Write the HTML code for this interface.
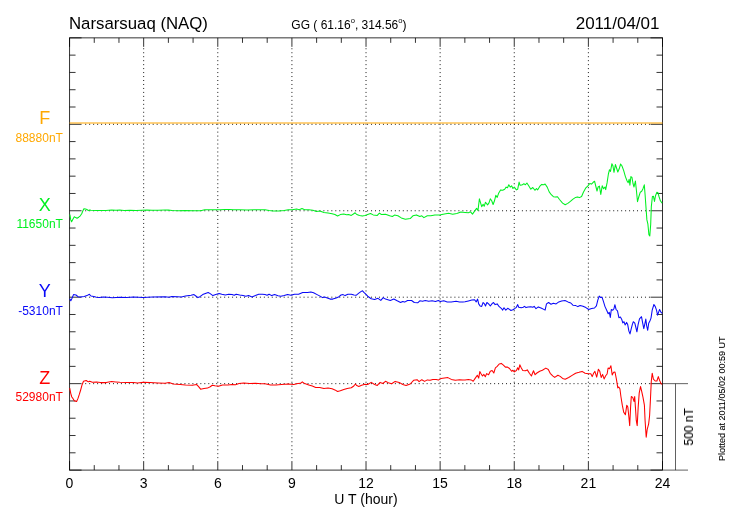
<!DOCTYPE html>
<html lang="en"><head><meta charset="utf-8"><title>Narsarsuaq (NAQ) 2011/04/01</title>
<style>html,body{margin:0;padding:0;background:#fff;}body{width:730px;height:520px;overflow:hidden;}svg{display:block;}.t{opacity:0.999;will-change:opacity;}text{font-family:"Liberation Sans",Arial,Helvetica,sans-serif;}</style>
</head><body>
<svg width="730" height="520" viewBox="0 0 730 520">
<rect x="0" y="0" width="730" height="520" fill="#fff"/>
<g stroke="#000" stroke-opacity="0.9" stroke-width="1" stroke-dasharray="1 2.97" fill="none">
<line x1="143.67" y1="48.25" x2="143.67" y2="460.6"/>
<line x1="217.79" y1="48.25" x2="217.79" y2="460.6"/>
<line x1="291.91" y1="48.25" x2="291.91" y2="460.6"/>
<line x1="366.03" y1="48.25" x2="366.03" y2="460.6"/>
<line x1="440.14" y1="48.25" x2="440.14" y2="460.6"/>
<line x1="514.26" y1="48.25" x2="514.26" y2="460.6"/>
<line x1="588.38" y1="48.25" x2="588.38" y2="460.6"/>
<line x1="85.2" y1="124.3" x2="650.5" y2="124.3"/>
<line x1="85.2" y1="210.75" x2="650.5" y2="210.75"/>
<line x1="85.2" y1="297.2" x2="650.5" y2="297.2"/>
<line x1="85.2" y1="383.65" x2="650.5" y2="383.65"/>
</g>
<g stroke="#000" stroke-opacity="0.8" stroke-width="1" fill="none">
<rect x="69.55" y="37.85" width="592.95" height="432.25"/>
<line x1="69.55" y1="37.85" x2="69.55" y2="46.85"/>
<line x1="69.55" y1="470.1" x2="69.55" y2="461.1"/>
<line x1="94.26" y1="37.85" x2="94.26" y2="42.85"/>
<line x1="94.26" y1="470.1" x2="94.26" y2="465.1"/>
<line x1="118.96" y1="37.85" x2="118.96" y2="42.85"/>
<line x1="118.96" y1="470.1" x2="118.96" y2="465.1"/>
<line x1="143.67" y1="37.85" x2="143.67" y2="46.85"/>
<line x1="143.67" y1="470.1" x2="143.67" y2="461.1"/>
<line x1="168.38" y1="37.85" x2="168.38" y2="42.85"/>
<line x1="168.38" y1="470.1" x2="168.38" y2="465.1"/>
<line x1="193.08" y1="37.85" x2="193.08" y2="42.85"/>
<line x1="193.08" y1="470.1" x2="193.08" y2="465.1"/>
<line x1="217.79" y1="37.85" x2="217.79" y2="46.85"/>
<line x1="217.79" y1="470.1" x2="217.79" y2="461.1"/>
<line x1="242.49" y1="37.85" x2="242.49" y2="42.85"/>
<line x1="242.49" y1="470.1" x2="242.49" y2="465.1"/>
<line x1="267.2" y1="37.85" x2="267.2" y2="42.85"/>
<line x1="267.2" y1="470.1" x2="267.2" y2="465.1"/>
<line x1="291.91" y1="37.85" x2="291.91" y2="46.85"/>
<line x1="291.91" y1="470.1" x2="291.91" y2="461.1"/>
<line x1="316.61" y1="37.85" x2="316.61" y2="42.85"/>
<line x1="316.61" y1="470.1" x2="316.61" y2="465.1"/>
<line x1="341.32" y1="37.85" x2="341.32" y2="42.85"/>
<line x1="341.32" y1="470.1" x2="341.32" y2="465.1"/>
<line x1="366.03" y1="37.85" x2="366.03" y2="46.85"/>
<line x1="366.03" y1="470.1" x2="366.03" y2="461.1"/>
<line x1="390.73" y1="37.85" x2="390.73" y2="42.85"/>
<line x1="390.73" y1="470.1" x2="390.73" y2="465.1"/>
<line x1="415.44" y1="37.85" x2="415.44" y2="42.85"/>
<line x1="415.44" y1="470.1" x2="415.44" y2="465.1"/>
<line x1="440.14" y1="37.85" x2="440.14" y2="46.85"/>
<line x1="440.14" y1="470.1" x2="440.14" y2="461.1"/>
<line x1="464.85" y1="37.85" x2="464.85" y2="42.85"/>
<line x1="464.85" y1="470.1" x2="464.85" y2="465.1"/>
<line x1="489.56" y1="37.85" x2="489.56" y2="42.85"/>
<line x1="489.56" y1="470.1" x2="489.56" y2="465.1"/>
<line x1="514.26" y1="37.85" x2="514.26" y2="46.85"/>
<line x1="514.26" y1="470.1" x2="514.26" y2="461.1"/>
<line x1="538.97" y1="37.85" x2="538.97" y2="42.85"/>
<line x1="538.97" y1="470.1" x2="538.97" y2="465.1"/>
<line x1="563.67" y1="37.85" x2="563.67" y2="42.85"/>
<line x1="563.67" y1="470.1" x2="563.67" y2="465.1"/>
<line x1="588.38" y1="37.85" x2="588.38" y2="46.85"/>
<line x1="588.38" y1="470.1" x2="588.38" y2="461.1"/>
<line x1="613.09" y1="37.85" x2="613.09" y2="42.85"/>
<line x1="613.09" y1="470.1" x2="613.09" y2="465.1"/>
<line x1="637.79" y1="37.85" x2="637.79" y2="42.85"/>
<line x1="637.79" y1="470.1" x2="637.79" y2="465.1"/>
<line x1="662.5" y1="37.85" x2="662.5" y2="46.85"/>
<line x1="662.5" y1="470.1" x2="662.5" y2="461.1"/>
<line x1="69.55" y1="37.85" x2="81.55" y2="37.85"/>
<line x1="662.5" y1="37.85" x2="650.5" y2="37.85"/>
<line x1="69.55" y1="55.14" x2="75.55" y2="55.14"/>
<line x1="662.5" y1="55.14" x2="656.5" y2="55.14"/>
<line x1="69.55" y1="72.43" x2="75.55" y2="72.43"/>
<line x1="662.5" y1="72.43" x2="656.5" y2="72.43"/>
<line x1="69.55" y1="89.72" x2="75.55" y2="89.72"/>
<line x1="662.5" y1="89.72" x2="656.5" y2="89.72"/>
<line x1="69.55" y1="107.01" x2="75.55" y2="107.01"/>
<line x1="662.5" y1="107.01" x2="656.5" y2="107.01"/>
<line x1="69.55" y1="124.3" x2="81.55" y2="124.3"/>
<line x1="662.5" y1="124.3" x2="650.5" y2="124.3"/>
<line x1="69.55" y1="141.59" x2="75.55" y2="141.59"/>
<line x1="662.5" y1="141.59" x2="656.5" y2="141.59"/>
<line x1="69.55" y1="158.88" x2="75.55" y2="158.88"/>
<line x1="662.5" y1="158.88" x2="656.5" y2="158.88"/>
<line x1="69.55" y1="176.17" x2="75.55" y2="176.17"/>
<line x1="662.5" y1="176.17" x2="656.5" y2="176.17"/>
<line x1="69.55" y1="193.46" x2="75.55" y2="193.46"/>
<line x1="662.5" y1="193.46" x2="656.5" y2="193.46"/>
<line x1="69.55" y1="210.75" x2="81.55" y2="210.75"/>
<line x1="662.5" y1="210.75" x2="650.5" y2="210.75"/>
<line x1="69.55" y1="228.04" x2="75.55" y2="228.04"/>
<line x1="662.5" y1="228.04" x2="656.5" y2="228.04"/>
<line x1="69.55" y1="245.33" x2="75.55" y2="245.33"/>
<line x1="662.5" y1="245.33" x2="656.5" y2="245.33"/>
<line x1="69.55" y1="262.62" x2="75.55" y2="262.62"/>
<line x1="662.5" y1="262.62" x2="656.5" y2="262.62"/>
<line x1="69.55" y1="279.91" x2="75.55" y2="279.91"/>
<line x1="662.5" y1="279.91" x2="656.5" y2="279.91"/>
<line x1="69.55" y1="297.2" x2="81.55" y2="297.2"/>
<line x1="662.5" y1="297.2" x2="650.5" y2="297.2"/>
<line x1="69.55" y1="314.49" x2="75.55" y2="314.49"/>
<line x1="662.5" y1="314.49" x2="656.5" y2="314.49"/>
<line x1="69.55" y1="331.78" x2="75.55" y2="331.78"/>
<line x1="662.5" y1="331.78" x2="656.5" y2="331.78"/>
<line x1="69.55" y1="349.07" x2="75.55" y2="349.07"/>
<line x1="662.5" y1="349.07" x2="656.5" y2="349.07"/>
<line x1="69.55" y1="366.36" x2="75.55" y2="366.36"/>
<line x1="662.5" y1="366.36" x2="656.5" y2="366.36"/>
<line x1="69.55" y1="383.65" x2="81.55" y2="383.65"/>
<line x1="662.5" y1="383.65" x2="650.5" y2="383.65"/>
<line x1="69.55" y1="400.94" x2="75.55" y2="400.94"/>
<line x1="662.5" y1="400.94" x2="656.5" y2="400.94"/>
<line x1="69.55" y1="418.23" x2="75.55" y2="418.23"/>
<line x1="662.5" y1="418.23" x2="656.5" y2="418.23"/>
<line x1="69.55" y1="435.52" x2="75.55" y2="435.52"/>
<line x1="662.5" y1="435.52" x2="656.5" y2="435.52"/>
<line x1="69.55" y1="452.81" x2="75.55" y2="452.81"/>
<line x1="662.5" y1="452.81" x2="656.5" y2="452.81"/>
<line x1="69.55" y1="470.1" x2="81.55" y2="470.1"/>
<line x1="662.5" y1="470.1" x2="650.5" y2="470.1"/>
</g>
<g stroke="#000" stroke-opacity="0.62" stroke-width="1" fill="none">
<line x1="663" y1="383.65" x2="688" y2="383.65"/>
<line x1="663" y1="470.1" x2="688" y2="470.1"/>
<line x1="675.5" y1="383.65" x2="675.5" y2="470.1"/>
</g>
<line x1="69.55" y1="123" x2="662.5" y2="123" stroke="#FFA500" stroke-width="1.2"/>
<polyline fill="none" stroke="#00F020" stroke-width="1.05" stroke-linejoin="round" points="69.9,214.5 70.75,219.9 71.6,221.7 72.9,219.2 74.3,216.8 75.7,217.6 77.05,218.2 78.7,217.2 80.3,215.8 81.7,213.8 82.8,211 83.9,208.7 85.5,209 86.9,209.4 88.3,210.6 89.7,210.1 91,210.3 96.5,210.6 101,210.4 106,210.6 111.6,210.1 116,210.3 119.8,210.1 124,210.4 130,210.3 136,210.4 141.7,210.3 147,210.1 152,210.3 158,210.2 165,210.1 168.4,210.1 172,210.4 178.7,210.75 185,210.6 192.4,210.75 200.6,210.7 204.7,209.7 212,209.8 219.8,209.7 225,209.4 229.4,209.4 233.5,209.8 240,209.7 247,209.9 254,209.7 260,209.8 265,209.7 269.1,210.5 273.2,211 278.7,211 284.2,210.5 288.3,209.7 292.4,209.8 296.5,209.1 299.2,209.7 302,208.6 304.7,209.7 308.8,209.7 312.9,210.3 316.4,211.4 319.8,211 323.9,212.4 328,213.1 332.1,213.8 334.9,214.5 337.6,216 340.3,214.6 343.8,214 346.5,214.7 348.6,214.5 351.3,215.4 353.4,214 355.1,212.8 356.8,214.5 359.5,215.4 362.3,216.1 365,215.4 367.7,214.5 370.5,213.5 373.2,214.9 377.3,215.4 379.4,213.1 381.4,214.5 385.5,214.2 389.7,215.8 392.4,216.5 394.5,215.1 397.9,215.8 401.3,217.9 405.4,219.2 410.2,218.6 412.9,215.8 416.4,214.9 419.8,216.5 421.8,215.8 423.9,217.6 427.3,215.8 430.8,215.8 434.9,214.9 439.7,215.1 443.1,214.2 448.6,213.2 452.7,214.2 456.8,213.5 460.9,212.1 465,212.4 468.4,212.7 470.5,211.8 472.5,214.1 474.6,211.1 476.6,208.4 478,210.4 479.4,198.8 480.8,203.6 481.7,206.7 483.1,204.2 484.2,206.3 485.5,202.2 487.6,204.9 489,202.9 490.3,198.8 491.7,200.8 493.1,204.5 494.5,200.8 495.8,195.3 497.2,197.4 498.6,193.3 500.6,189.9 502.7,190.3 504.7,189.2 506.1,187.1 507.5,187.8 508.8,184.8 510.2,187.1 511.6,185.8 512.9,188.5 514.3,187.1 516.4,189.9 517.7,189.2 519.1,182.1 520.1,185.3 521.8,185.1 523.9,183.7 525.3,184.8 526.9,183 528.7,185.8 530.8,189.2 532.8,187.5 534.9,190.3 536.5,188.5 537.6,189.9 539.7,186.4 541.7,184.4 543.8,184.8 545.1,184 547.2,187.1 549.2,191.9 551.3,194.7 553.4,196.7 555.4,197.1 557.5,196.7 559.5,199.5 562.6,203.1 565.2,204.8 567.8,203.4 570.4,201.4 573,199.1 575.6,197.4 577.3,196.9 579.4,197.6 581.6,196.5 583.4,192.2 585.6,188.2 587.7,186.1 589.8,183.5 591.5,184.1 593.2,182.3 594.6,181.3 596,187 597,191 598.1,187 599.4,186.1 600.8,194.4 602.2,185.8 603.6,188.7 605,187 605.7,189.6 607.1,182.7 608.4,174 609.5,169.7 610.5,171.4 611.9,163.7 612.9,165.7 614,172.3 615.4,164.5 616.7,168.5 617.8,172 619.2,168.8 620.6,164 621.9,165.7 623.7,170.6 625.4,176.6 627.1,181 628.2,182.7 629.2,179.2 629.9,185.3 630.9,176.6 632,177.5 633,183.5 634,187 635.4,181 636.5,191.3 637.5,201.7 638.9,196.5 640.3,192.2 641.7,191.3 643,188.7 644.3,184.8 645.1,194.8 646.2,210.4 646.9,219.9 647.9,224.2 648.9,234.6 649.8,236 650.7,224.2 651.3,206.9 652.4,196.5 653.4,196.2 654.5,201.4 655.5,195.7 656.9,192.2 657.9,192.7 659,196.5 660.4,200.8 662.1,203.1"/>
<polyline fill="none" stroke="#0808F8" stroke-width="1.05" stroke-linejoin="round" points="69.7,298.7 70.8,300.8 71.8,298.7 73.5,294.6 76,295 78,296.7 80.1,297.1 84.2,296.4 86.9,295.6 89.4,294.3 91,296 93.8,296.4 96.5,297.3 99.2,297.6 103.4,296.9 107.5,297.3 112.3,297.8 119.8,297.3 126.6,297.5 133.5,297.1 143.1,297.5 152.7,297.1 165,296.8 169.1,297.2 171.8,296.5 177.3,296.7 181.4,296.9 185.5,296.1 191,295.3 194,294.6 195.8,296 197.9,297.6 199.9,296.7 202.7,294.6 206.1,293.2 208.2,292.5 210.2,293.6 212.9,295.6 215.7,294.6 219.1,293.5 221.8,294.3 225.3,295 228.7,294.2 232.1,294.6 234.2,295.3 236.2,294.3 239.7,295 243.1,295.6 245.8,296.2 248.6,295.6 252,296.9 255.4,295.6 258.8,294.2 262.3,294.3 265,294.6 267.1,295.3 269.1,294.2 271.8,295.6 274.6,294.6 278,295.7 280.8,296.2 284.2,295.6 287.6,294.6 291,295.3 294.5,294.2 298.6,294.2 302.7,292.5 307.5,292.5 310.9,292 313.6,292.8 317.1,294.6 320.5,296.4 322.5,297.6 324.6,297.1 327.3,298 330.1,299.1 332.8,299.1 336.2,298 339,296.7 341,295 343.1,294.6 345.1,295.6 347.9,294.3 351.3,294.2 354,295 356.1,295.3 358.8,293.2 360.9,291.6 362.5,290.8 363.9,292.3 365,293.4 367.7,296.2 371.2,298.7 374.6,299.4 378,298.3 380.8,300.4 383.2,297.6 385.5,299.1 390.3,300.4 393.8,299 397.2,300.8 400.6,302.5 402.7,301.5 404.7,302.1 407.5,300.5 411.6,300.5 414.3,302.5 417.7,302.8 419.8,300.8 422.5,301.2 425.3,300.5 428.7,301.2 432.1,300.8 435.5,301.5 438.3,300.5 440.3,301.5 443.8,300.8 447.2,301.9 451.3,301.9 456.1,301.3 459.5,301.9 462.9,302.1 465,301.7 468.4,300.9 471.8,300.1 474.6,299.8 476.2,301.9 477.6,299.1 478.7,303.9 480.1,306 481.7,306.4 483.1,302.5 484.5,303.9 485.5,306 486.9,302.5 488.6,303.9 490.3,306 492.1,303.6 493.5,302.5 495.1,304.6 497.2,303.9 499.2,306.7 501.3,308.3 502.7,310.1 504,307.8 505.8,310.1 507.7,308.3 509.5,309.4 510.9,310.5 512.9,309.8 514.6,308.7 516.4,307.3 517.7,304.6 518.7,307.3 521.2,307.8 523.2,307.3 524.6,306.4 526,307.6 528,306.9 530.8,306.7 532.8,307.3 534.2,306.4 536,308.7 538.3,306.9 541,308 543.8,309.4 545.1,310.1 546.5,303.9 548.6,302.5 551,304.2 553.4,303.2 556.1,303.9 558.8,301.9 561.6,300.9 565,300.5 567.9,301.9 570.8,303 572.9,305.2 575.8,305.6 577.9,306.6 580.1,305.6 583,306.3 585.9,307.6 588.7,309.5 591.6,308.5 594.5,308 596.4,305.9 597.8,300.1 599.2,296.1 600.7,297.5 602.1,297.3 603.5,301.6 605,306.6 606.7,310.2 608.2,313.8 609.3,312.4 610.3,317.4 611.3,309.5 612.8,310.2 613.9,308.8 614.9,304.7 616.1,309.5 617.5,310.9 618.9,317.7 620.4,317.1 621.8,319.6 622.8,322.9 624,321.7 625.1,324.9 626.6,322.4 627.7,324.6 628.9,331.1 630,333.9 631.2,328.9 632.3,324.6 633.3,321.7 634.8,323.2 635.9,327.5 636.9,331.8 638.1,324.6 639.5,318.8 641.5,316.7 642.7,323.2 643.8,328.6 645,323.2 645.8,319.1 646.7,326 647.7,330.3 648.7,323.2 649.9,321 651,318.1 652.2,310.2 653.9,304.5 655.3,306.6 656.5,310.2 657.6,315.2 658.8,311.6 659.6,309.5 661.1,312.4 662.2,313.4"/>
<polyline fill="none" stroke="#FF0000" stroke-width="1.05" stroke-linejoin="round" points="69.7,388.1 70.8,393.6 71.8,397 72.9,398.4 74.3,400.8 76.6,401.5 78,398.4 79.4,394.2 80.8,389.5 82.1,384.7 83.5,381.2 86.2,380.5 88.3,381.9 89.7,381.2 92.4,382.2 96.5,381.9 100.6,382.6 106.1,382.6 111.6,381.6 115.7,381.9 119.8,382.3 126.6,382.5 133.5,382.6 137.6,383 143.1,382.3 149.9,382.6 158.2,382.9 165,383.2 169.1,382.6 173.2,384 180.1,384.4 185.5,385.1 192.4,385.3 196.5,384.4 198.6,386.7 200.6,389.2 204,388.5 207.5,388.1 210.2,386.7 212.3,385.3 215,385.8 218.4,386.3 222.5,384.9 228,384.9 232.1,384.4 235.5,384.7 239,383.6 243.8,383 249.9,383.6 255.4,383.3 260.9,383.8 265,383.8 270.5,384.9 276,385.1 281.4,384.4 288.3,384.1 293.8,384.4 297.9,383.6 300.6,383.3 302.3,381.9 304.7,383.6 308.8,384.9 312.3,386 315.7,387.4 319.8,387.4 323.9,388.5 328,388.1 332.1,388.8 334.9,389.9 337.6,391.5 340.3,390.8 343.8,389.5 347.2,388.4 351.3,387.8 353.8,386 355.4,384 356.8,385.6 358.8,386.4 361.6,385.3 365,384.3 367.7,384.5 371.2,382.4 374.6,384.5 377.3,385.4 380.1,382.4 382.8,383.5 385.5,381.3 389,383.1 391.7,383.8 395.1,381.4 399.2,382.4 402.7,384.5 406.1,385.5 410.2,384 413.6,380.3 417.1,379.7 419.1,381.7 421.8,379.7 424.6,381.4 427.3,379.9 430.1,380.3 432.8,379.4 436.2,379.4 438.3,380.1 441,378.6 444.5,378 447.9,377.6 451.3,379.4 455.4,380.3 459.5,379.7 462.9,380.1 465,379.9 468.4,379.5 471.2,379.9 473.2,381.2 475.3,378.1 477.3,375.3 478.7,378.1 479.8,371.6 481.2,374 482.5,376 483.9,374.4 485.3,376.7 486.6,373.6 488.6,374.7 490.3,371.2 492.1,370.5 493.8,373 495.4,367.8 497.2,366.4 499.2,364 501.3,363.4 503.4,365.1 505.4,367.1 507.5,367.1 509.5,368.5 511.6,371.2 512.9,370.3 514.3,371.9 516.4,370.5 517.7,367.8 518.7,369.9 519.8,364.8 521.2,367.8 522.8,370.5 525.3,370.8 527.3,369.9 529.4,373.3 531.4,376 533.5,370.8 535.1,374.7 536.9,373 539.7,371.2 542.4,370.3 545.8,368.1 548.3,369.5 550.2,373.3 552.7,375.8 554.7,377.4 557.9,375.3 560.2,376.4 562.6,378.4 565.2,379.2 568.7,377.5 572.1,375.4 575.6,373.2 579,372.3 582.1,371.4 585.1,373.2 588.5,373.7 590.8,373.7 592.2,376.6 593.6,373.2 594.9,371.4 596.7,377.1 598.4,369.2 599.8,371.4 601.2,377.5 602.6,374.4 604.1,378.9 605.7,375.8 607.1,374 608.1,368 609.5,368.8 610.9,365.7 612.2,374.9 613.6,372.3 615,372 616.4,379.2 617.8,387.9 618.8,387 619.9,388.7 620.9,396.5 622.3,405.2 623.7,412.1 625.4,414.7 626.8,405.2 627.8,406.9 628.9,417.3 629.7,425.6 630.6,406.9 631.3,396.5 632.7,397.4 634,401.4 634.7,396.5 635.4,406.9 636.3,420.7 637.2,425.6 638.2,406.9 639.2,393.1 640.5,386.5 641.7,391.3 643,397.4 644.4,405.2 645.1,420.7 646.2,437.2 647.2,429.4 648.6,424.2 649.6,415.6 650.5,398.3 651.3,381 652.2,373.2 653.4,379.2 655.2,381 656.9,381 658.3,376.6 659.7,380.6 661,383.5 662.1,384.4"/>
<text class="t" x="69" y="29" font-size="16.8" fill="#000">Narsarsuaq (NAQ)</text>
<text class="t" x="291.3" y="29" font-size="12" fill="#000">GG ( 61.16<tspan font-size="7.6" dy="-5.7">o</tspan><tspan dy="5.7">, 314.56</tspan><tspan font-size="7.6" dy="-5.7">o</tspan><tspan dy="5.7">)</tspan></text>
<text class="t" x="659.5" y="29" font-size="17" fill="#000" text-anchor="end">2011/04/01</text>
<text class="t" x="69.5" y="488" font-size="14" fill="#000" text-anchor="middle">0</text>
<text class="t" x="143.7" y="488" font-size="14" fill="#000" text-anchor="middle">3</text>
<text class="t" x="217.8" y="488" font-size="14" fill="#000" text-anchor="middle">6</text>
<text class="t" x="291.9" y="488" font-size="14" fill="#000" text-anchor="middle">9</text>
<text class="t" x="366.0" y="488" font-size="14" fill="#000" text-anchor="middle">12</text>
<text class="t" x="440.1" y="488" font-size="14" fill="#000" text-anchor="middle">15</text>
<text class="t" x="514.3" y="488" font-size="14" fill="#000" text-anchor="middle">18</text>
<text class="t" x="588.4" y="488" font-size="14" fill="#000" text-anchor="middle">21</text>
<text class="t" x="662.5" y="488" font-size="14" fill="#000" text-anchor="middle">24</text>
<text class="t" x="366.0" y="503.5" font-size="14" fill="#000" text-anchor="middle">U T (hour)</text>
<text class="t" x="44.7" y="124" font-size="18" fill="#FFA800" text-anchor="middle">F</text>
<text class="t" x="62.9" y="141.9" font-size="12" fill="#FFA800" text-anchor="end">88880nT</text>
<text class="t" x="44.7" y="211" font-size="18" fill="#00F020" text-anchor="middle">X</text>
<text class="t" x="62.9" y="227.9" font-size="12" fill="#00F020" text-anchor="end">11650nT</text>
<text class="t" x="44.7" y="297" font-size="18" fill="#0808F8" text-anchor="middle">Y</text>
<text class="t" x="62.9" y="314.8" font-size="12" fill="#0808F8" text-anchor="end">-5310nT</text>
<text class="t" x="44.7" y="384" font-size="18" fill="#FF0000" text-anchor="middle">Z</text>
<text class="t" x="62.9" y="400.9" font-size="12" fill="#FF0000" text-anchor="end">52980nT</text>
<text class="t" transform="translate(693,445.5) rotate(-90)" font-size="12" fill="#000" stroke="#000" stroke-width="0.12">500 nT</text>
<text class="t" transform="translate(725,461) rotate(-90)" font-size="9" fill="#000" stroke="#000" stroke-width="0.1">Plotted at 2011/05/02 00:59 UT</text>
</svg></body></html>
